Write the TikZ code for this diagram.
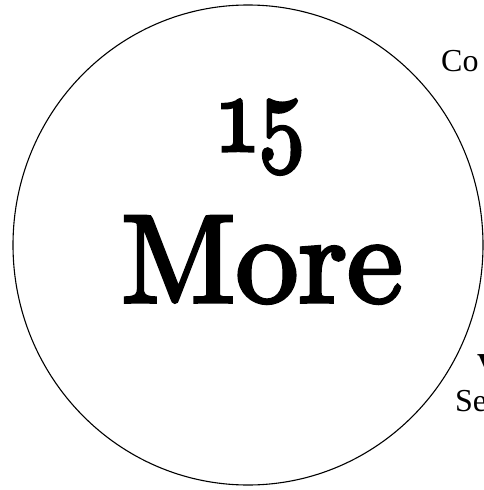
\documentclass[tikz,border=0pt]{standalone}
\usepackage{fontspec}
\setmainfont{Liberation Serif}
\newfontfamily\bigfont{lmroman10-regular}[Extension=.otf, Numbers=OldStyle, FakeBold=3]
\tikzset{
  ring/.style={draw=black, line width=1.1pt},
  bigtext/.style={font=\bigfont\fontsize{125}{125}\selectfont, inner sep=0pt, anchor=base},
  edgetext/.style={font=\fontsize{32}{32}\selectfont, inner sep=0pt, anchor=base west}
}
\begin{document}
\begin{tikzpicture}[x=1pt,y=1pt]
\useasboundingbox (0,0) rectangle (484,-490);
\draw[ring] (248,-245) ellipse [x radius=235, y radius=240];
\node[bigtext] (num) at (263,-151) {\scalebox{0.74}[0.87]{15}};
\node[bigtext] (more) at (262,-302) {More};
\node[edgetext] (co) at (441,-71) {Co};
\node[edgetext, font=\bfseries\fontsize{32}{32}\selectfont] (v) at (477,-375) {V};
\node[edgetext] (se) at (455,-411) {Se};
\end{tikzpicture}
\end{document}
